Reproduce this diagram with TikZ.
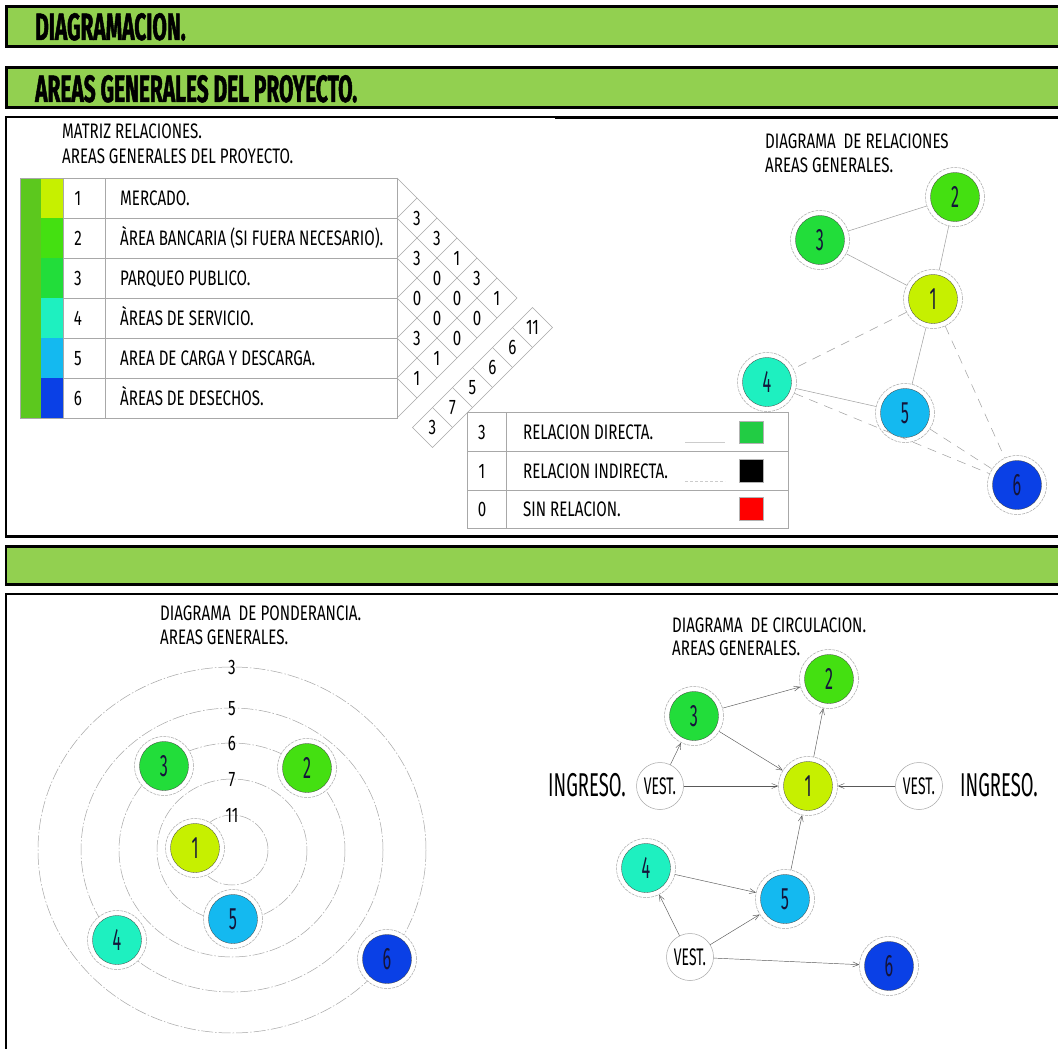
\documentclass[tikz,border=0pt]{standalone}
\usepackage{fontspec}
\usetikzlibrary{arrows.meta}

% condensed faces for headings, text and numbers
\newfontfamily\headfont[FakeStretch=0.55, BoldFeatures={FakeBold=1.2}]{Fira Sans}
\newfontfamily\txtfont[FakeStretch=0.72]{Fira Sans}
\newfontfamily\numfont[FakeStretch=0.52]{Fira Sans}
\newfontfamily\vestfont[FakeStretch=0.58]{Fira Sans}
\newfontfamily\ingfont[FakeStretch=0.56]{Fira Sans}

\definecolor{band}{HTML}{92D050}
\definecolor{bar}{HTML}{5CC81E}
\definecolor{aone}{HTML}{C6F000}
\definecolor{atwo}{HTML}{44E011}
\definecolor{athree}{HTML}{22DD3A}
\definecolor{afour}{HTML}{1EF0C0}
\definecolor{afive}{HTML}{14B9F0}
\definecolor{asix}{HTML}{0A40E6}
\definecolor{ink}{HTML}{14143A}
\definecolor{rulegray}{HTML}{A8A8A8}
\definecolor{keygreen}{HTML}{22CC44}

\tikzset{
  head/.style={font=\headfont\bfseries\fontsize{38}{40}\selectfont, inner sep=0pt, anchor=west, text height=26pt, text depth=0pt},
  txt/.style={font=\txtfont\fontsize{21}{24}\selectfont, inner sep=0pt, anchor=west, text height=14.5pt, text depth=0pt},
  txtc/.style={txt, anchor=center},
  ring/.style={circle, draw=gray!70, dash pattern=on 3pt off 1pt, fill=white, minimum size=59pt, inner sep=0pt, line width=0.5pt},
  core/.style={circle, draw=gray!50!black, line width=0.3pt, minimum size=49pt, inner sep=0pt, text=ink, font=\numfont\fontsize{31}{31}\selectfont},
  area/.style 2 args={ring, label={[core, fill=#1]center:#2}},
  vest/.style={circle, draw=gray!70, fill=white, minimum size=47pt, inner sep=0pt, line width=0.5pt, font=\vestfont\fontsize{24}{24}\selectfont},
  ingreso/.style={inner sep=0pt, anchor=center, font=\ingfont\fontsize{33}{36}\selectfont, text height=22.5pt, text depth=0pt},
  link/.style={draw=gray!75, line width=0.5pt},
  loose/.style={link, dash pattern=on 9pt off 7pt},
  flow/.style={draw=gray!70!black, line width=0.45pt, -{Straight Barb[length=6pt,width=5pt]}},
  orbit/.style={draw=gray!70, line width=0.5pt, dash pattern=on 12pt off 2pt on 1.5pt off 2pt},
  grid/.style={draw=rulegray, line width=0.5pt},
}

\begin{document}
\begin{tikzpicture}[x=1pt, y=-1pt]
\clip (0,0) rectangle (1058,1049);
\fill[white] (0,0) rectangle (1058,1049);

% ---------- heading bands ----------
\draw[fill=band, line width=3pt] (6.5,6.5) rectangle (1070,46.5);
\node[head] (title1) at (35,27) {DIAGRAMACION.};
\draw[fill=band, line width=3pt] (6.5,68) rectangle (1070,107.5);
\node[head] (title2) at (35,89) {AREAS GENERALES DEL PROYECTO.};

% ---------- upper panel frame ----------
\draw[line width=1.5pt] (6,537) -- (6,117) -- (555,117);
\draw[line width=2.5pt] (555,117.5) -- (1070,117.5);
\draw[line width=3pt] (5,536.5) -- (1070,536.5);

% ---------- lower band and panel ----------
\draw[fill=band, line width=2.5pt] (6,546.5) rectangle (1070,584.5);
\draw[line width=2pt] (6,1060) -- (6,594) -- (1070,594);

% ---------- relation matrix ----------
\node[txt] (mt1) at (62,131) {MATRIZ RELACIONES.};
\node[txt] (mt2) at (62,156) {AREAS GENERALES DEL PROYECTO.};

\fill[bar] (20,178) rectangle (41,418);
\foreach \i/\c in {1/aone,2/atwo,3/athree,4/afour,5/afive,6/asix}
  \fill[\c] (41,{138+40*\i}) rectangle (63,{178+40*\i});
\draw[grid] (20,178) rectangle (397,418);
\draw[grid] (63,178) -- (63,418);
\draw[grid] (105,178) -- (105,418);
\foreach \k in {1,...,5}
  \draw[grid] (63,{178+40*\k}) -- (397,{178+40*\k});

\foreach \i/\t in {1/MERCADO.,2/ÀREA BANCARIA (SI FUERA NECESARIO).,3/PARQUEO PUBLICO.,4/ÀREAS DE SERVICIO.,5/AREA DE CARGA Y DESCARGA.,6/ÀREAS DE DESECHOS.}{
  \node[txtc] (rn\i) at (78,{158+40*\i}) {\i};
  \node[txt] (rt\i) at (120,{158+40*\i}) {\t};
}

% half-diamond grid of pair values
\draw[grid] (397,178) -- (517,298) -- (397,418);
\foreach \k in {1,...,5}{
  \draw[grid] (397,{178+40*\k}) -- ({517-20*\k},{298+20*\k});
  \draw[grid] (397,{178+40*\k}) -- ({397+20*\k},{178+20*\k});
}
\foreach \i/\j/\v in {1/2/3,1/3/3,1/4/1,1/5/3,1/6/1,2/3/3,2/4/0,2/5/0,2/6/0,3/4/0,3/5/0,3/6/0,4/5/3,4/6/1,5/6/1}
  \node[txtc] (m\i\j) at ({397+20*(\j-\i)},{158+20*(\i+\j)}) {\v};

% strip of totals
\draw[grid] (532.5,307.5) -- (552.5,327.5) -- (432.5,447.5) -- (412.5,427.5) -- cycle;
\foreach \k in {1,...,5}
  \draw[grid] ({512.5-20*(\k-1)},{327.5+20*(\k-1)}) -- ({532.5-20*(\k-1)},{347.5+20*(\k-1)});
\foreach \k/\v in {1/11,2/6,3/6,4/5,5/7,6/3}
  \node[txtc] (s\k) at ({532.5-20*(\k-1)},{327.5+20*(\k-1)}) {\v};

% key
\draw[grid, fill=white] (467,412) rectangle (788,528);
\draw[grid] (467,451) -- (788,451);
\draw[grid] (467,490) -- (788,490);
\draw[grid] (506,412) -- (506,528);
\node[txtc] (k1n) at (482,432) {3};
\node[txt] (k1t) at (523,432) {RELACION DIRECTA.};
\node[txtc] (k2n) at (482,471) {1};
\node[txt] (k2t) at (523,471) {RELACION INDIRECTA.};
\node[txtc] (k3n) at (482,509) {0};
\node[txt] (k3t) at (523,509) {SIN RELACION.};
\draw[draw=gray!40, line width=0.5pt] (685,442) -- (725,442);
\draw[draw=gray!40, line width=0.5pt, dash pattern=on 3pt off 2pt] (685,481) -- (725,481);
\draw[draw=gray!60, line width=0.4pt, fill=keygreen] (739,421) rectangle (763,443);
\draw[draw=gray!60, line width=0.4pt, fill=black] (739,459) rectangle (763,482);
\draw[draw=gray!60, line width=0.4pt, fill=red] (739,497) rectangle (763,520);

% ---------- relation diagram ----------
\node[txt] (dt1) at (765,141) {DIAGRAMA \ DE RELACIONES};
\node[txt] (dt2) at (765,165) {AREAS GENERALES.};
\node[area={atwo}{2}] (R2) at (955,197) {};
\node[area={athree}{3}] (R3) at (820,240) {};
\node[area={aone}{1}] (R1) at (933,299) {};
\node[area={afour}{4}] (R4) at (767,382) {};
\node[area={afive}{5}] (R5) at (905,413) {};
\node[area={asix}{6}] (R6) at (1017,485) {};
\draw[link] (R3) -- (R2);
\draw[link] (R2) -- (R1);
\draw[link] (R3) -- (R1);
\draw[link] (R1) -- (R5);
\draw[link] (R4) -- (R5);
\draw[loose] (R1) -- (R4);
\draw[loose] (R1) -- (R6);
\draw[loose] (R5) -- (R6);
\draw[loose] (R4) -- (R6);

% ---------- weighting diagram ----------
\node[txt] (pt1) at (160,613) {DIAGRAMA \ DE PONDERANCIA.};
\node[txt] (pt2) at (160,637) {AREAS GENERALES.};
\foreach \v/\rx/\ry in {3/194/183,5/151/142,6/113/107,7/75/71,11/36/35}{
  \draw[orbit] (232,850) ellipse [x radius=\rx, y radius=\ry];
  \node[txtc] (o\v) at (232,{850-\ry}) {\v};
}
\node[area={athree}{3}] (P3) at (164,766) {};
\node[area={atwo}{2}] (P2) at (307,768) {};
\node[area={aone}{1}] (P1) at (195,848) {};
\node[area={afive}{5}] (P5) at (233,919) {};
\node[area={afour}{4}] (P4) at (117,940) {};
\node[area={asix}{6}] (P6) at (387,959) {};

% ---------- circulation diagram ----------
\node[txt] (ct1) at (672,625) {DIAGRAMA \ DE CIRCULACION.};
\node[txt] (ct2) at (672,648) {AREAS GENERALES.};
\node[area={atwo}{2}] (C2) at (829,679) {};
\node[area={athree}{3}] (C3) at (694,716) {};
\node[area={aone}{1}] (C1) at (808,786) {};
\node[area={afour}{4}] (C4) at (646,868) {};
\node[area={afive}{5}] (C5) at (785,899) {};
\node[area={asix}{6}] (C6) at (889,966) {};
\node[vest] (VL) at (660,786) {VEST.};
\node[vest] (VR) at (919,786) {VEST.};
\node[vest] (VB) at (690,957) {VEST.};
\node[ingreso] (IL) at (587,785) {INGRESO.};
\node[ingreso] (IR) at (999,785) {INGRESO.};
\draw[flow] (C3) -- (C2);
\draw[flow] (C3) -- (C1);
\draw[flow] (C1) -- (C2);
\draw[flow] (VL) -- (C3);
\draw[flow] (VL) -- (C1);
\draw[flow] (VR) -- (C1);
\draw[flow] (C5) -- (C1);
\draw[flow] (C4) -- (C5);
\draw[flow] (VB) -- (C4);
\draw[flow] (VB) -- (C5);
\draw[flow] (VB) -- (C6);
\end{tikzpicture}
\end{document}
